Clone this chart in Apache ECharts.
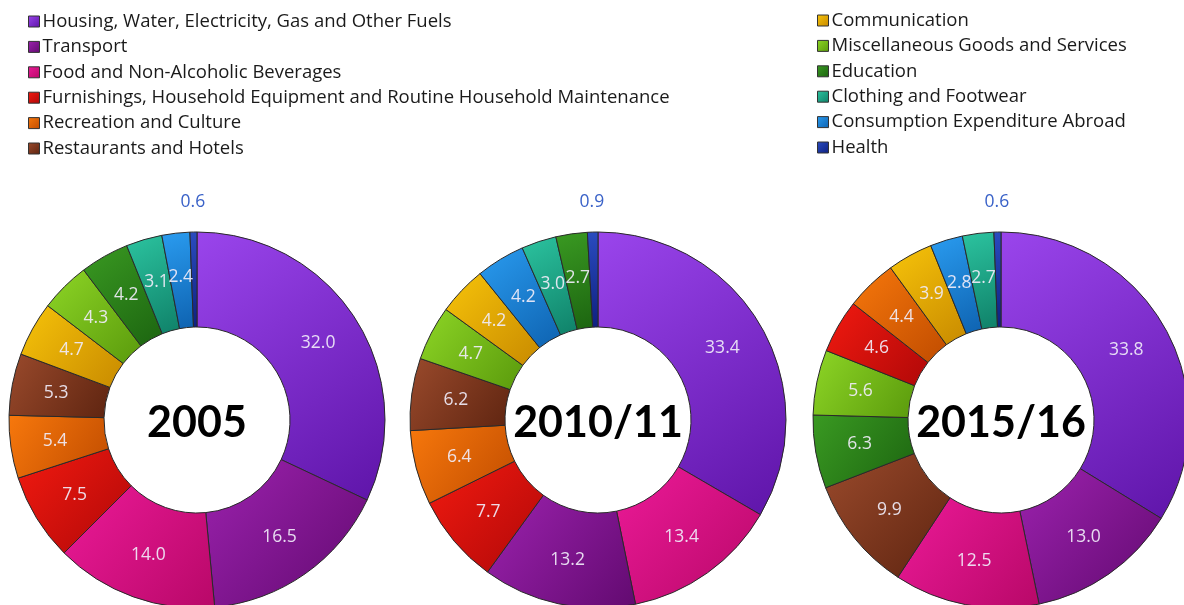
<!DOCTYPE html>
<html>
<head>
<meta charset="utf-8">
<script src="https://cdn.jsdelivr.net/npm/echarts@6/dist/echarts.min.js"></script>
<style>
html,body{margin:0;padding:0;background:#fff;}
#main{width:1184px;height:605px;}
</style>
</head>
<body>
<div id="main"></div>
<script>
// categories (legend order)
var categories = [
    'Housing, Water, Electricity, Gas and Other Fuels',
    'Transport',
    'Food and Non-Alcoholic Beverages',
    'Furnishings, Household Equipment and Routine Household Maintenance',
    'Recreation and Culture',
    'Restaurants and Hotels',
    'Communication',
    'Miscellaneous Goods and Services',
    'Education',
    'Clothing and Footwear',
    'Consumption Expenditure Abroad',
    'Health'
];
var years = ['2005', '2010/11', '2015/16'];

// share of expenditure (%), same order as categories
var values2005 = [32.0, 16.5, 14.0, 7.5, 5.4, 5.3, 4.7, 4.3, 4.2, 3.1, 2.4, 0.6];
var values2010 = [33.4, 13.2, 13.4, 7.7, 6.4, 6.2, 4.2, 4.7, 2.7, 3.0, 4.2, 0.9];
var values2015 = [33.8, 13.0, 12.5, 4.6, 4.4, 9.9, 3.9, 5.6, 6.3, 2.7, 2.8, 0.6];

// light / dark pair for each category
var colorsLight = ['#9a45ec', '#9c22ae', '#ec1a98', '#f21a10', '#f7780c', '#9a4a2c',
                   '#f7c40a', '#8ed626', '#3a9a22', '#2cc4a0', '#2a9cf0', '#2a4cc0'];
var colorsDark  = ['#5e14a8', '#620a70', '#b80868', '#b00808', '#c04c00', '#5e2410',
                   '#c88a00', '#5a9a0c', '#1c6410', '#0f8068', '#0e62b0', '#0e2080'];

var centersX = ['197', '598', '1001'];

function makeColor(i) {
    return {
        type: 'linear', x: 0, y: 0, x2: 1, y2: 1,
        colorStops: [
            {offset: 0, color: colorsLight[i]},
            {offset: 1, color: colorsDark[i]}
        ]
    };
}

function buildSeries(vals, k) {
    var items = [];
    for (var i = 0; i < categories.length; i++) {
        items.push({idx: i, value: vals[i]});
    }
    // ring goes from biggest to smallest, clockwise from 12 o'clock
    items.sort(function (a, b) { return b.value - a.value || a.idx - b.idx; });
    var data = [];
    var healthPos = -1;
    for (var j = 0; j < items.length; j++) {
        var d = {
            name: categories[items[j].idx],
            value: items[j].value,
            itemStyle: {color: makeColor(items[j].idx)}
        };
        if (categories[items[j].idx] === 'Health') {
            healthPos = j;
            d.label = {position: 'outside', color: '#3a62c8', distanceToLabelLine: 0};
            d.labelLine = {show: false, length: 30, length2: 0};
        }
        data.push(d);
    }
    return {
        type: 'pie',
        name: years[k],
        center: [centersX[k], '420'],
        radius: [93, 188],
        startAngle: 90,
        clockwise: true,
        avoidLabelOverlap: false,
        animation: false,
        itemStyle: {
            borderColor: '#2a2a2a',
            borderWidth: 1
        },
        label: {
            show: true,
            position: 'inside',
            color: 'rgba(240,236,248,0.92)',
            fontFamily: 'Open Sans',
            fontSize: 17.5,
            formatter: function (p) { return p.value.toFixed(1); }
        },
        labelLayout: function (p) {
            if (p.dataIndex === healthPos) {
                return {align: 'center'};
            }
            return {};
        },
        emphasis: {disabled: true},
        data: data
    };
}

var series = [
    buildSeries(values2005, 0),
    buildSeries(values2010, 1),
    buildSeries(values2015, 2)
];

var titles = [];
for (var t = 0; t < years.length; t++) {
    titles.push({
        text: years[t],
        left: centersX[t],
        top: 423,
        padding: 0,
        textAlign: 'center',
        textVerticalAlign: 'middle',
        textStyle: {
            fontFamily: 'Lato',
            fontWeight: 'bold',
            fontSize: 43,
            color: '#000'
        }
    });
}

var legendBase = {
    orient: 'vertical',
    icon: 'rect',
    itemWidth: 11,
    itemHeight: 11,
    itemGap: 6.4,
    selectedMode: false,
    itemStyle: {borderColor: '#333', borderWidth: 1},
    textStyle: {fontFamily: 'Open Sans', fontSize: 18.5, lineHeight: 18, color: '#1a1a1a', padding: [0, 0, 0, -2]}
};

var myChart = echarts.init(document.getElementById('main'));
myChart.setOption({
    backgroundColor: '#fff',
    title: titles,
    legend: [
        Object.assign({}, legendBase, {left: 23, top: 7, data: categories.slice(0, 6)}),
        Object.assign({}, legendBase, {left: 812, top: 6, data: categories.slice(6)})
    ],
    series: series
});
</script>
</body>
</html>
